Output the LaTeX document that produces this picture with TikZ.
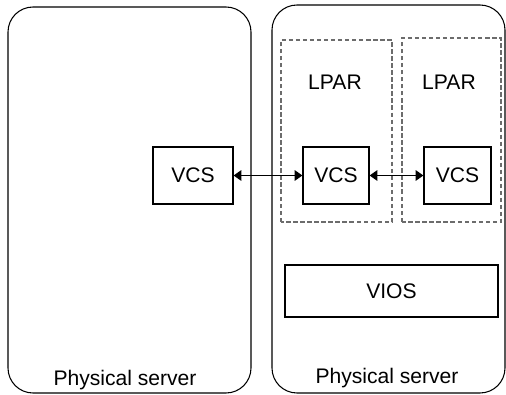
\documentclass[tikz,border=0pt]{standalone}
\usepackage{fontspec}
\setmainfont{Liberation Sans}
\usetikzlibrary{arrows.meta}
\begin{document}
\begin{tikzpicture}[
    box/.style={draw, line width=0.6pt, minimum height=1.14cm, inner sep=0pt, font=\fontsize{12}{14}\selectfont},
    lpar/.style={draw=gray!85!black, line width=0.6pt, dash pattern=on 2.5pt off 1.5pt},
    link/.style={{Triangle[length=4.5pt,width=6pt]}-{Triangle[length=4.5pt,width=6pt]}, line width=0.9pt},
    txt/.style={font=\fontsize{12}{14}\selectfont}]
        \useasboundingbox (0,0) rectangle (10.12,7.9);
        % physical servers
        \draw[line width=0.6pt, rounded corners=0.5cm] (0.16,0.04) rectangle (5.02,7.76);
        \draw[line width=0.6pt, rounded corners=0.5cm] (5.44,0.04) rectangle (10.1,7.8);
        % LPARs
        \draw[lpar] (5.62,3.46) rectangle (7.84,7.1);
        \draw[lpar] (8.04,3.46) rectangle (10.02,7.14);
        \node[txt] (lparA) at (6.7,6.26) {LPAR};
        \node[txt] (lparB) at (8.98,6.26) {LPAR};
        % VCS nodes
        \node[box, minimum width=1.6cm] (vcsL) at (3.86,4.39) {VCS};
        \node[box, minimum width=1.32cm] (vcsM) at (6.72,4.39) {VCS};
        \node[box, minimum width=1.34cm] (vcsR) at (9.15,4.39) {VCS};
        \node[box, minimum width=4.26cm, minimum height=1.04cm] (vios) at (7.83,2.08) {VIOS};
        \draw[link] (vcsL) -- (vcsM);
        \draw[link] (vcsM) -- (vcsR);
        \node[txt] (srvL) at (2.5,0.3) {Physical server};
        \node[txt] (srvR) at (7.74,0.34) {Physical server};
\end{tikzpicture}
\end{document}
